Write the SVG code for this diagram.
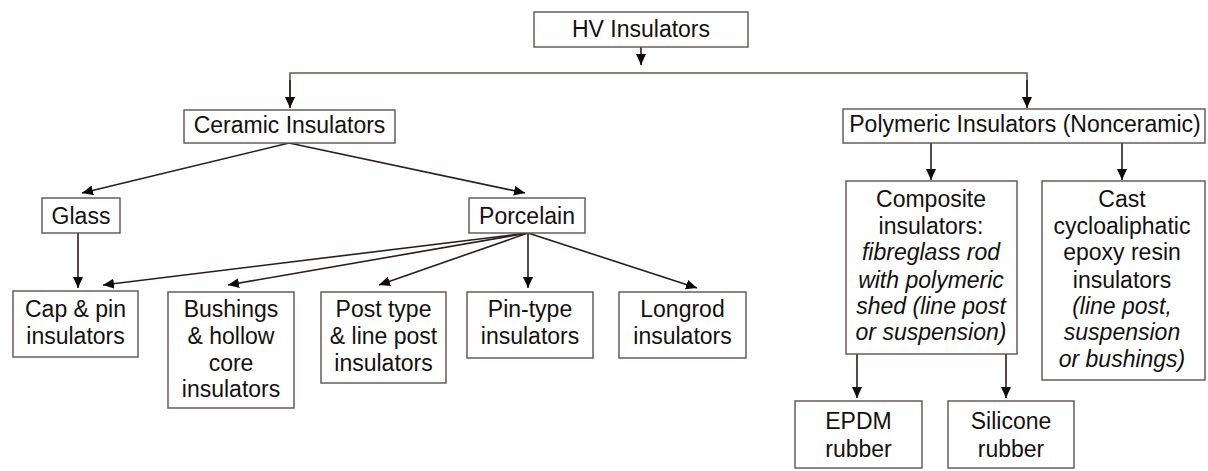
<svg xmlns="http://www.w3.org/2000/svg" width="1208" height="471" viewBox="0 0 1208 471">
  <style>
    .box { fill: #ffffff; stroke: #5e5050; stroke-width: 1.4; }
    .lbl { font-family: "Liberation Sans", Arial, sans-serif; font-size: 23px; fill: #141010; text-anchor: middle; }
    .it { font-style: italic; }
    .wire { fill: none; stroke: #2a1c1c; stroke-width: 1.6; }
    .bus { fill: none; stroke: #6a5454; stroke-width: 1.6; }
  </style>
  <defs>
    <marker id="arrow" markerUnits="userSpaceOnUse" markerWidth="11" markerHeight="10" refX="11" refY="5" orient="auto">
      <path d="M0,0 L11,5 L0,10 z" fill="#0e0a0a"/>
    </marker>
  </defs>
  <rect width="1208" height="471" fill="#ffffff"/>

  <!-- connectors -->
  <g id="connectors">
    <line class="wire" x1="641" y1="47" x2="641" y2="65" marker-end="url(#arrow)"/>
    <polyline class="bus" points="290,107 290,73 1027,73 1027,107"/>
    <line class="wire" x1="290" y1="80" x2="290" y2="108" marker-end="url(#arrow)"/>
    <line class="wire" x1="1027" y1="80" x2="1027" y2="108" marker-end="url(#arrow)"/>

    <line class="wire" x1="289" y1="143" x2="82" y2="193" marker-end="url(#arrow)"/>
    <line class="wire" x1="289" y1="143" x2="525" y2="193" marker-end="url(#arrow)"/>

    <line class="wire" x1="78" y1="233" x2="78" y2="288" marker-end="url(#arrow)"/>

    <line class="wire" x1="528" y1="233" x2="103" y2="285" marker-end="url(#arrow)"/>
    <line class="wire" x1="528" y1="233" x2="228" y2="285" marker-end="url(#arrow)"/>
    <line class="wire" x1="528" y1="233" x2="379" y2="285" marker-end="url(#arrow)"/>
    <line class="wire" x1="528" y1="233" x2="528" y2="288" marker-end="url(#arrow)"/>
    <line class="wire" x1="528" y1="233" x2="697" y2="288" marker-end="url(#arrow)"/>

    <line class="wire" x1="931" y1="143" x2="931" y2="180" marker-end="url(#arrow)"/>
    <line class="wire" x1="1122" y1="143" x2="1122" y2="180" marker-end="url(#arrow)"/>

    <line class="wire" x1="857" y1="354" x2="857" y2="398" marker-end="url(#arrow)"/>
    <line class="wire" x1="1006" y1="354" x2="1006" y2="398" marker-end="url(#arrow)"/>
  </g>

  <!-- root -->
  <g id="hv-insulators">
    <rect class="box" x="534" y="12" width="214" height="35"/>
    <text class="lbl" x="641" y="37">HV Insulators</text>
  </g>

  <!-- ceramic branch -->
  <g id="ceramic">
    <rect class="box" x="184" y="110" width="211" height="33"/>
    <text class="lbl" x="289.5" y="133">Ceramic Insulators</text>
  </g>
  <g id="glass">
    <rect class="box" x="42" y="198" width="78" height="35"/>
    <text class="lbl" x="81" y="224">Glass</text>
  </g>
  <g id="porcelain">
    <rect class="box" x="469" y="198" width="116" height="35"/>
    <text class="lbl" x="527" y="224">Porcelain</text>
  </g>
  <g id="cap-pin">
    <rect class="box" x="13" y="291" width="125" height="66"/>
    <text class="lbl" x="75.5" y="317">Cap &amp; pin</text>
    <text class="lbl" x="75.5" y="344">insulators</text>
  </g>
  <g id="bushings">
    <rect class="box" x="168" y="292" width="126" height="116"/>
    <text class="lbl" x="231" y="317">Bushings</text>
    <text class="lbl" x="231" y="344">&amp; hollow</text>
    <text class="lbl" x="231" y="371">core</text>
    <text class="lbl" x="231" y="397">insulators</text>
  </g>
  <g id="post-type">
    <rect class="box" x="321" y="292" width="125" height="91"/>
    <text class="lbl" x="383.5" y="317">Post type</text>
    <text class="lbl" x="383.5" y="344">&amp; line post</text>
    <text class="lbl" x="383.5" y="371">insulators</text>
  </g>
  <g id="pin-type">
    <rect class="box" x="467" y="292" width="126" height="66"/>
    <text class="lbl" x="530" y="317">Pin-type</text>
    <text class="lbl" x="530" y="344">insulators</text>
  </g>
  <g id="longrod">
    <rect class="box" x="619" y="292" width="127" height="66"/>
    <text class="lbl" x="682.5" y="317">Longrod</text>
    <text class="lbl" x="682.5" y="344">insulators</text>
  </g>

  <!-- polymeric branch -->
  <g id="polymeric">
    <rect class="box" x="843" y="109" width="362" height="34"/>
    <text class="lbl" x="1025" y="132">Polymeric Insulators (Nonceramic)</text>
  </g>
  <g id="composite">
    <rect class="box" x="846" y="181" width="171" height="173"/>
    <text class="lbl" x="931" y="207">Composite</text>
    <text class="lbl" x="931" y="234">insulators:</text>
    <text class="lbl it" x="931" y="260">fibreglass rod</text>
    <text class="lbl it" x="931" y="288">with polymeric</text>
    <text class="lbl it" x="931" y="314">shed (line post</text>
    <text class="lbl it" x="931" y="340">or suspension)</text>
  </g>
  <g id="cast-epoxy">
    <rect class="box" x="1042" y="181" width="163" height="199"/>
    <text class="lbl" x="1122" y="207">Cast</text>
    <text class="lbl" x="1122" y="234">cycloaliphatic</text>
    <text class="lbl" x="1122" y="260">epoxy resin</text>
    <text class="lbl" x="1122" y="288">insulators</text>
    <text class="lbl it" x="1122" y="314">(line post,</text>
    <text class="lbl it" x="1122" y="340">suspension</text>
    <text class="lbl it" x="1122" y="367">or bushings)</text>
  </g>
  <g id="epdm">
    <rect class="box" x="795" y="401" width="127" height="67"/>
    <text class="lbl" x="858.5" y="429">EPDM</text>
    <text class="lbl" x="858.5" y="457">rubber</text>
  </g>
  <g id="silicone">
    <rect class="box" x="948" y="401" width="126" height="67"/>
    <text class="lbl" x="1011" y="429">Silicone</text>
    <text class="lbl" x="1011" y="457">rubber</text>
  </g>
</svg>
